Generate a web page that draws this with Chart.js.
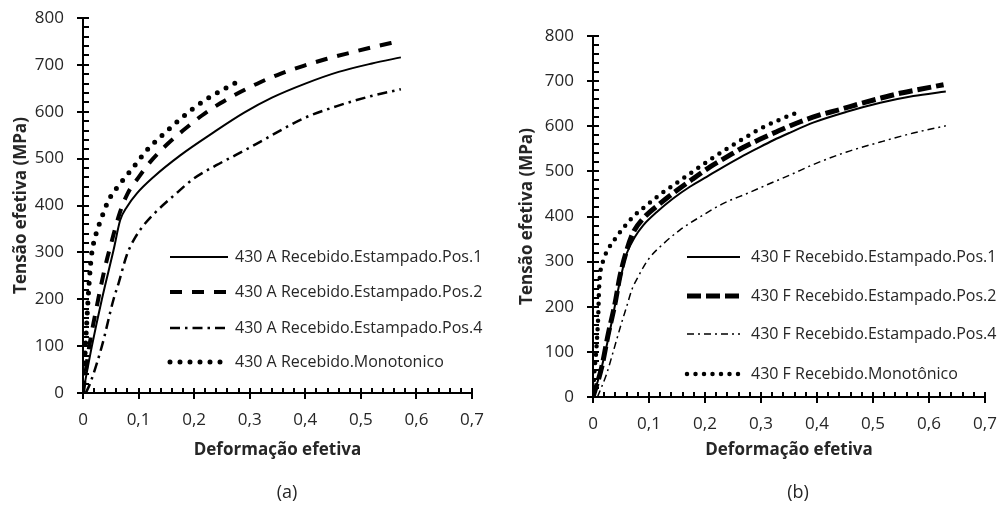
<!DOCTYPE html>
<html>
<head>
<meta charset="utf-8">
<script src="https://cdn.jsdelivr.net/npm/chart.js@4/dist/chart.umd.min.js"></script>
<style>
  body { margin: 0; background: #fff; }
  .panel { position: absolute; top: 0; width: 500px; height: 505px; }
  .panel canvas { position: absolute; left: 0; top: 0; }
  .ticks { pointer-events: none; }
</style>
</head>
<body>
<div class="panel" style="left:0">
  <canvas id="chartA" width="500" height="505"></canvas>
  <canvas id="ticksA" class="ticks" width="500" height="505"></canvas>
</div>
<div class="panel" style="left:500px">
  <canvas id="chartB" width="500" height="505"></canvas>
  <canvas id="ticksB" class="ticks" width="500" height="505"></canvas>
</div>
<script>
// (a) 430 A
const strainA1 = [0, 0.016, 0.034, 0.055, 0.067, 0.079, 0.097, 0.127, 0.175, 0.235, 0.29, 0.34, 0.40, 0.46, 0.52, 0.572];
const stressA1 = [0, 100, 200, 305, 369, 397, 426, 461, 507, 556, 598, 630, 660, 685, 703, 716];
const strainA2 = [0, 0.01, 0.024, 0.04, 0.052, 0.065, 0.08, 0.1, 0.121, 0.151, 0.181, 0.214, 0.247, 0.283, 0.319, 0.355, 0.397, 0.439, 0.481, 0.522, 0.57];
const stressA2 = [0, 90, 180, 270, 325, 380, 425, 460, 493, 530, 561, 592, 618, 642, 663, 681, 698, 713, 726, 738, 751];
const strainA4 = [0.005, 0.013, 0.034, 0.055, 0.064, 0.079, 0.094, 0.112, 0.13, 0.166, 0.2, 0.24, 0.277, 0.313, 0.349, 0.397, 0.457, 0.517, 0.572];
const stressA4 = [0, 21, 100, 200, 234, 295, 332, 362, 385, 424, 458, 486, 509, 532, 556, 586, 612, 633, 648];
const strainAM = [0, 0.004, 0.008, 0.011, 0.015, 0.022, 0.033, 0.046, 0.067, 0.091, 0.115, 0.139, 0.166, 0.193, 0.22, 0.25, 0.281];
const stressAM = [0, 90, 177, 234, 291, 333, 372, 411, 447, 482, 518, 546, 575, 602, 625, 646, 666];

// (b) 430 F
const strainB1 = [0, 0.0155, 0.0304, 0.0423, 0.0513, 0.0602, 0.075, 0.09, 0.114, 0.143, 0.173, 0.203, 0.233, 0.263, 0.292, 0.322, 0.352, 0.393, 0.453, 0.513, 0.572, 0.63];
const stressB1 = [0, 66, 148, 222, 275, 318, 355, 381, 410, 440, 466, 488, 510, 531, 550, 569, 586, 608, 632, 652, 667, 677];
const strainB2 = [0, 0.0155, 0.0273, 0.0393, 0.0482, 0.0602, 0.072, 0.09, 0.12, 0.15, 0.179, 0.209, 0.239, 0.268, 0.298, 0.328, 0.37, 0.405, 0.441, 0.477, 0.513, 0.548, 0.584, 0.626];
const stressB2 = [0, 66, 140, 207, 268, 325, 365, 396, 429, 458, 484, 510, 532, 553, 571, 588, 610, 625, 637, 650, 662, 673, 682, 692];
const strainB4 = [0.008, 0.024, 0.036, 0.05, 0.06, 0.07, 0.08, 0.09, 0.102, 0.126, 0.155, 0.191, 0.233, 0.275, 0.316, 0.352, 0.393, 0.453, 0.513, 0.572, 0.63];
const stressB4 = [0, 50, 100, 160, 200, 240, 265, 288, 310, 340, 370, 399, 429, 451, 473, 492, 515, 543, 565, 585, 601];
const strainBM = [0, 0.0023, 0.0054, 0.0077, 0.0095, 0.0107, 0.0125, 0.0184, 0.0273, 0.038, 0.0512, 0.072, 0.096, 0.12, 0.15, 0.179, 0.209, 0.239, 0.268, 0.298, 0.334, 0.37];
const stressBM = [0, 52, 96, 140, 185, 237, 270, 303, 328, 348, 370, 400, 425, 449, 475, 500, 526, 550, 572, 594, 615, 633];

const xTitle = 'Deformação efetiva';
const yTitle = 'Tensão efetiva (MPa)';

const toPoints = (xs, ys) => xs.map((x, i) => ({ x: x, y: ys[i] }));

Chart.defaults.font.family = '"Open Sans", sans-serif';
Chart.defaults.color = '#262626';

// legend with line samples and the panel caption
const decor = {
  id: 'decor',
  afterDraw(chart, args, opts) {
    const ctx = chart.ctx;
    ctx.save();
    chart.data.datasets.forEach((ds, i) => {
      const y = opts.rows[i];
      ctx.beginPath();
      ctx.strokeStyle = ds.borderColor;
      ctx.lineWidth = ds.borderWidth;
      ctx.lineCap = ds.borderCapStyle || 'butt';
      ctx.setLineDash(ds.borderDash || []);
      ctx.moveTo(opts.x0, y);
      ctx.lineTo(opts.x1, y);
      ctx.stroke();
      ctx.setLineDash([]);
      ctx.fillStyle = '#262626';
      ctx.font = '16px "Open Sans"';
      ctx.textAlign = 'left';
      ctx.textBaseline = 'middle';
      ctx.fillText(ds.label, opts.textX, y);
    });
    ctx.font = '18px "Open Sans"';
    ctx.textAlign = 'center';
    ctx.fillText(opts.caption, opts.capX, opts.capY);
    ctx.restore();
  }
};

// Excel-style tick marks on a layer above the chart:
// majors cross the axis, minors point into the plot
function drawTicks(chart, canvasId) {
  const ctx = document.getElementById(canvasId).getContext('2d');
  const xs = chart.scales.x;
  const ys = chart.scales.y;
  ctx.strokeStyle = '#000';
  ctx.lineWidth = 2;
  ctx.beginPath();
  for (let i = 0; i <= 40; i++) {
    const py = Math.round(ys.getPixelForValue(i * 20));
    ctx.moveTo(xs.left - (i % 5 === 0 ? 6 : 0), py);
    ctx.lineTo(xs.left + 6, py);
  }
  for (let i = 0; i <= 35; i++) {
    const px = Math.round(xs.getPixelForValue(i * 0.02));
    ctx.moveTo(px, ys.bottom + (i % 5 === 0 ? 6 : 0));
    ctx.lineTo(px, ys.bottom - 5);
  }
  ctx.stroke();
}

function makeChart(id, datasets, cfg) {
  return new Chart(document.getElementById(id), {
    type: 'line',
    data: { datasets: datasets },
    plugins: [decor],
    options: {
      responsive: false,
      animation: false,
      layout: { padding: { left: 0, top: cfg.top, right: cfg.right, bottom: 0 } },
      elements: { point: { radius: 0 }, line: { cubicInterpolationMode: 'monotone' } },
      plugins: {
        legend: { display: false },
        tooltip: { enabled: false },
        decor: cfg.decor
      },
      scales: {
        x: {
          type: 'linear',
          min: 0,
          max: 0.7,
          afterFit: s => {
            s.height = cfg.xAxisHeight;
            s.paddingLeft = 0;
            s.paddingRight = 0;
          },
          border: { color: '#000', width: 2 },
          grid: { display: false, drawTicks: false },
          ticks: {
            stepSize: 0.1,
            maxRotation: 0,
            padding: 16.5,
            font: { size: 17 },
            callback: v => (v === 0 ? '0' : v.toFixed(1).replace('.', ','))
          },
          title: { display: true, text: xTitle, font: { size: 17, weight: 'bold' }, padding: { bottom: 44.8 } }
        },
        y: {
          min: 0,
          max: 800,
          afterFit: s => {
            s.width = cfg.yAxisWidth;
            s.paddingTop = 0;
            s.paddingBottom = 0;
          },
          border: { color: '#000', width: 2 },
          grid: { display: false, drawTicks: false },
          ticks: {
            stepSize: 100,
            padding: 19,
            font: { size: 17 }
          },
          title: { display: true, text: yTitle, font: { size: 17, weight: 'bold' }, padding: { top: cfg.yTitlePad } }
        }
      }
    }
  });
}

const chartA = makeChart('chartA', [
  { label: '430 A Recebido.Estampado.Pos.1', data: toPoints(strainA1, stressA1), borderColor: '#000', borderWidth: 2 },
  { label: '430 A Recebido.Estampado.Pos.2', data: toPoints(strainA2, stressA2), borderColor: '#000', borderWidth: 4, borderDash: [12, 10] },
  { label: '430 A Recebido.Estampado.Pos.4', data: toPoints(strainA4, stressA4), borderColor: '#000', borderWidth: 2.5, borderDash: [10, 5, 2.5, 5] },
  { label: '430 A Recebido.Monotonico', data: toPoints(strainAM, stressAM), borderColor: '#000', borderWidth: 5, borderDash: [0, 10], borderCapStyle: 'round' }
], {
  top: 18, right: 28, xAxisHeight: 112, yAxisWidth: 83, yTitlePad: 10.8,
  decor: { x0: 170, x1: 228, textX: 235, rows: [257, 292, 328, 362], caption: '(a)', capX: 287, capY: 493 }
});

const chartB = makeChart('chartB', [
  { label: '430 F Recebido.Estampado.Pos.1', data: toPoints(strainB1, stressB1), borderColor: '#000', borderWidth: 2 },
  { label: '430 F Recebido.Estampado.Pos.2', data: toPoints(strainB2, stressB2), borderColor: '#000', borderWidth: 5, borderDash: [14, 5] },
  { label: '430 F Recebido.Estampado.Pos.4', data: toPoints(strainB4, stressB4), borderColor: '#000', borderWidth: 1.5, borderDash: [7, 4, 2, 4] },
  { label: '430 F Recebido.Monotônico', data: toPoints(strainBM, stressBM), borderColor: '#000', borderWidth: 4.5, borderDash: [0, 8.5], borderCapStyle: 'round' }
], {
  top: 36, right: 15, xAxisHeight: 108, yAxisWidth: 93, yTitlePad: 16.8,
  decor: { x0: 187, x1: 240, textX: 251, rows: [257, 296, 334, 374], caption: '(b)', capX: 298, capY: 493 }
});

drawTicks(chartA, 'ticksA');
drawTicks(chartB, 'ticksB');
</script>
</body>
</html>
